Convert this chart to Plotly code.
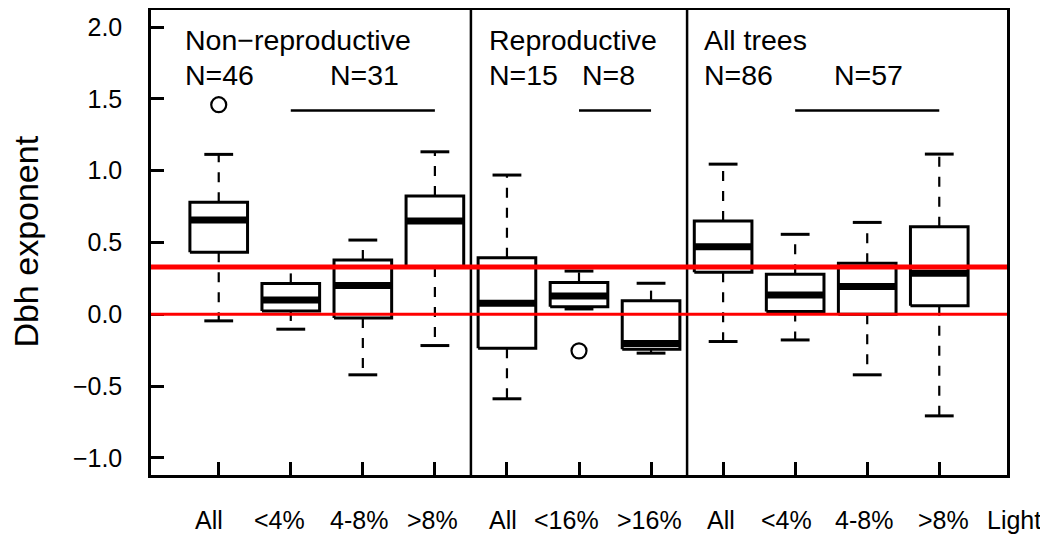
import plotly.graph_objects as go

# ---------------- data ----------------
categories = ["All", "<4%", "4-8%", ">8%", "All", "<16%", ">16%", "All", "<4%", "4-8%", ">8%"]
positions = list(range(1, 12))
label_pos = [0.87, 1.85, 2.95, 3.96, 4.94, 5.83, 6.98, 7.97, 8.88, 9.95, 11.06]
extra_label = "Light"
extra_label_pos = 12.04

lower_whisker = [-0.046, -0.104, -0.422, -0.218, -0.589, 0.037, -0.271, -0.190, -0.179, -0.422, -0.708]
q1 = [0.432, 0.023, -0.026, 0.330, -0.237, 0.053, -0.243, 0.292, 0.019, 0.000, 0.060]
median = [0.657, 0.099, 0.200, 0.650, 0.077, 0.127, -0.204, 0.471, 0.135, 0.193, 0.285]
q3 = [0.780, 0.215, 0.378, 0.824, 0.394, 0.222, 0.095, 0.650, 0.278, 0.355, 0.610]
upper_whisker = [1.114, 0.330, 0.517, 1.132, 0.970, 0.301, 0.216, 1.046, 0.557, 0.640, 1.116]

outlier_pos = [1, 6]
outlier_val = [1.460, -0.255]

panel_titles = ["Non\u2212reproductive", "Reproductive", "All trees"]
panel_title_x = [0.50, 4.73, 7.71]
n_labels = ["N=46", "N=31", "N=15", "N=8", "N=86", "N=57"]
n_label_x = [0.50, 2.52, 4.73, 6.02, 7.71, 9.51]

sig_from = [2, 6, 9]
sig_to = [4, 7, 11]
sig_y = 1.42

panel_breaks = [4.5, 7.5]
ref_lines = [0.0, 0.33]
ref_widths = [3, 5]

y_ticks = [-1.0, -0.5, 0.0, 0.5, 1.0, 1.5, 2.0]
x_range = [0.06, 11.94]
y_range = [-1.12, 2.12]

FONT = "Liberation Sans, Arial, sans-serif"
box_half = 0.4
cap_half = 0.2

# ---------------- build ----------------
fig = go.Figure()

# box bodies
bx, by = [], []
for p, a, b in zip(positions, q1, q3):
    bx += [p - box_half, p + box_half, p + box_half, p - box_half, p - box_half, None]
    by += [a, a, b, b, a, None]
fig.add_trace(go.Scatter(x=bx, y=by, mode="lines", fill="toself", fillcolor="white",
                         line=dict(color="black", width=3), hoverinfo="skip"))

# whiskers (dashed)
wx, wy = [], []
for p, lo, a, b, hi in zip(positions, lower_whisker, q1, q3, upper_whisker):
    wx += [p, p, None, p, p, None]
    wy += [b, hi, None, a, lo, None]
fig.add_trace(go.Scatter(x=wx, y=wy, mode="lines",
                         line=dict(color="black", width=2.2, dash="10px,10px"), hoverinfo="skip"))

# caps
cx, cy = [], []
for p, lo, hi in zip(positions, lower_whisker, upper_whisker):
    cx += [p - cap_half, p + cap_half, None, p - cap_half, p + cap_half, None]
    cy += [hi, hi, None, lo, lo, None]
fig.add_trace(go.Scatter(x=cx, y=cy, mode="lines",
                         line=dict(color="black", width=3), hoverinfo="skip"))

# medians
mx, my = [], []
for p, m in zip(positions, median):
    mx += [p - box_half, p + box_half, None]
    my += [m, m, None]
fig.add_trace(go.Scatter(x=mx, y=my, mode="lines",
                         line=dict(color="black", width=7), hoverinfo="skip"))

# outliers
fig.add_trace(go.Scatter(x=outlier_pos, y=outlier_val, mode="markers",
                         marker=dict(symbol="circle-open", size=15, color="black",
                                     line=dict(width=2.2, color="black")),
                         hoverinfo="skip"))

# significance bars
sx, sy = [], []
for a, b in zip(sig_from, sig_to):
    sx += [a, b, None]
    sy += [sig_y, sig_y, None]
fig.add_trace(go.Scatter(x=sx, y=sy, mode="lines",
                         line=dict(color="black", width=2.5), hoverinfo="skip"))

shapes = []
for xb in panel_breaks:
    shapes.append(dict(type="line", xref="x", yref="paper", x0=xb, x1=xb, y0=0, y1=1,
                       line=dict(color="black", width=2.5), layer="above"))
for yv, w in zip(ref_lines, ref_widths):
    shapes.append(dict(type="line", xref="paper", yref="y", x0=0, x1=1, y0=yv, y1=yv,
                       line=dict(color="#ff0000", width=w), layer="above"))

annotations = []
for t, x in zip(panel_titles, panel_title_x):
    annotations.append(dict(text=t, x=x, y=1.913, xref="x", yref="y", xanchor="left",
                            yanchor="middle", showarrow=False,
                            font=dict(family=FONT, size=28.5, color="black")))
n_y = [1.665] * len(n_labels)
for t, x, yv in zip(n_labels, n_label_x, n_y):
    annotations.append(dict(text=t, x=x, y=yv, xref="x", yref="y", xanchor="left",
                            yanchor="middle", showarrow=False,
                            font=dict(family=FONT, size=28.5, color="black")))

def to_paper(xv):
    return (xv - x_range[0]) / (x_range[1] - x_range[0])

for t, x in zip(categories + [extra_label], label_pos + [extra_label_pos]):
    annotations.append(dict(text=t, x=to_paper(x), y=-0.097, xref="paper", yref="paper",
                            xanchor="center", yanchor="middle", showarrow=False,
                            font=dict(family=FONT, size=25, color="black")))

annotations.append(dict(text="Dbh exponent", x=-0.146, y=0.502, xref="paper", yref="paper",
                        xanchor="center", yanchor="middle", textangle=-90, showarrow=False,
                        font=dict(family=FONT, size=34, color="black")))

# the page body has an 8px margin, so the figure is sized to fit the window exactly
fig.update_layout(
    width=1040, height=529,
    margin=dict(l=143, r=41, t=2, b=62, autoexpand=False),
    paper_bgcolor="white", plot_bgcolor="white",
    showlegend=False,
    shapes=shapes, annotations=annotations,
    font=dict(family=FONT, color="black"),
)
fig.update_xaxes(range=x_range, tickvals=positions, showticklabels=False, automargin=False,
                 ticks="inside", ticklen=13, tickwidth=2.5, tickcolor="black",
                 showline=True, mirror=True, linewidth=2.5, linecolor="black",
                 showgrid=False, zeroline=False)
fig.update_yaxes(range=y_range, tickvals=y_ticks, tickformat=".1f", automargin=False,
                 ticks="inside", ticklen=13, tickwidth=2.5, tickcolor="black",
                 ticklabelstandoff=21,
                 tickfont=dict(family=FONT, size=25, color="black"),
                 showline=True, mirror=True, linewidth=2.5, linecolor="black",
                 showgrid=False, zeroline=False)

fig.write_html("out.html")
